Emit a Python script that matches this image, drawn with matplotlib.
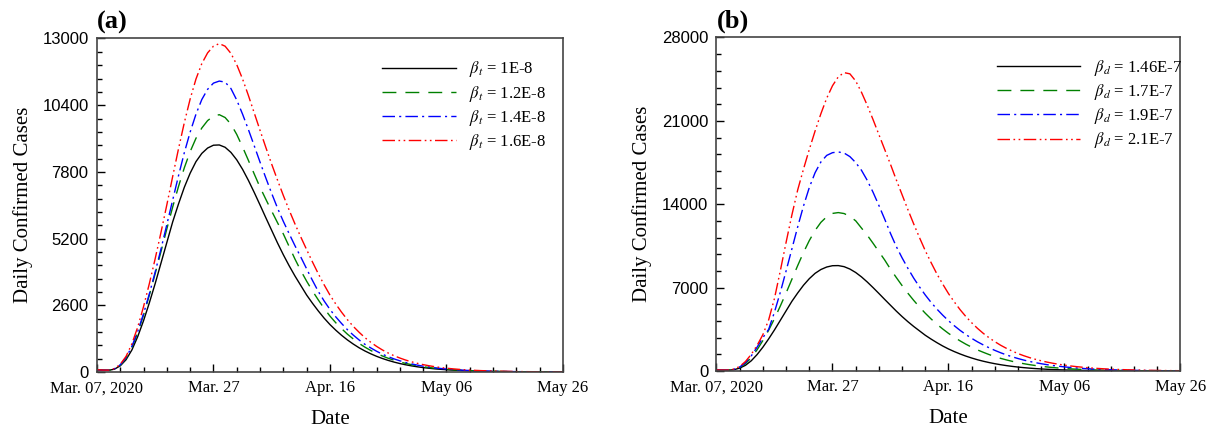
import numpy as np
import matplotlib
matplotlib.use("Agg")
import matplotlib.pyplot as plt
from matplotlib.ticker import MultipleLocator

plt.rcParams['font.family'] = ['Liberation Serif', 'DejaVu Serif']
plt.rcParams['mathtext.fontset'] = 'stix'

# days since Mar. 07, 2020
days = np.arange(0, 81)

date_ticks = [0, 20, 40, 60, 80]
date_labels = ['Mar. 07, 2020', 'Mar. 27', 'Apr. 16', 'May 06', 'May 26']

# baseline curve (same in both panels)
base_cases = [90, 70, 65, 110, 240, 480, 860, 1380, 2000, 2700,
              3450, 4250, 5050, 5850, 6550, 7200, 7750, 8200, 8520, 8730,
              8840, 8850, 8760, 8560, 8270, 7900, 7470, 7000, 6510, 6010,
              5520, 5030, 4570, 4140, 3740, 3370, 3000, 2680, 2380, 2100,
              1850, 1630, 1430, 1250, 1090, 945, 820, 710, 612, 527,
              452, 387, 330, 281, 239, 203, 172, 146, 123, 104,
              88, 74, 62, 52, 44, 37, 31, 26, 22, 18,
              15, 13, 11, 9, 8, 7, 6, 5, 4, 3, 3]

# panel (a): varying beta_t
a_labels = ['1E-8', '1.2E-8', '1.4E-8', '1.6E-8']
a_green = [90, 70, 67, 118, 260, 530, 960, 1530, 2220, 3000,
           3840, 4700, 5580, 6430, 7230, 7960, 8590, 9110, 9510, 9800,
           9970, 10030, 9920, 9660, 9260, 8770, 8250, 7720, 7200, 6730,
           6270, 5820, 5380, 4890, 4400, 3950, 3540, 3160, 2810, 2480,
           2180, 1920, 1690, 1475, 1290, 1115, 970, 840, 725, 625,
           535, 460, 392, 335, 285, 243, 206, 175, 148, 125,
           106, 89, 75, 63, 53, 45, 38, 32, 27, 22,
           18, 15, 13, 11, 9, 8, 7, 6, 5, 4, 3]
a_blue = [90, 72, 70, 125, 280, 560, 1000, 1580, 2270, 3050,
          3900, 4800, 5750, 6700, 7650, 8550, 9350, 10050, 10620, 11020,
          11260, 11340, 11300, 11050, 10600, 10050, 9450, 8820, 8180, 7560,
          6960, 6390, 5870, 5390, 4920, 4480, 4020, 3570, 3140, 2770,
          2440, 2150, 1890, 1650, 1440, 1250, 1080, 940, 810, 695,
          597, 511, 436, 371, 316, 268, 227, 193, 162, 137,
          116, 98, 82, 69, 58, 49, 41, 34, 29, 24,
          20, 17, 15, 12, 11, 9, 8, 7, 5, 4, 4]
a_red = [90, 75, 72, 130, 300, 610, 1100, 1750, 2550, 3450,
         4420, 5450, 6520, 7620, 8700, 9720, 10640, 11420, 12020, 12440,
         12700, 12800, 12700, 12420, 11980, 11420, 10780, 10100, 9420, 8750,
         8100, 7480, 6880, 6310, 5770, 5260, 4770, 4290, 3830, 3400,
         3000, 2650, 2330, 2040, 1780, 1550, 1340, 1160, 1000, 860,
         740, 635, 545, 465, 397, 338, 287, 244, 207, 175,
         148, 125, 106, 89, 75, 63, 53, 45, 38, 32,
         27, 23, 19, 16, 13, 11, 9, 8, 7, 6, 5]

# panel (b): varying beta_d
b_labels = ['1.46E-7', '1.7E-7', '1.9E-7', '2.1E-7']
b_green = [90, 72, 70, 130, 300, 620, 1120, 1780, 2560, 3430,
           4400, 5450, 6550, 7700, 8850, 9950, 10950, 11800, 12480, 12950,
           13230, 13300, 13220, 12980, 12610, 12000, 11400, 10720, 10020, 9320,
           8550, 7850, 7170, 6530, 5930, 5370, 4850, 4370, 3930, 3530,
           3160, 2830, 2530, 2250, 2000, 1770, 1570, 1380, 1210, 1060,
           930, 810, 705, 612, 530, 458, 395, 340, 292, 250,
           214, 183, 156, 133, 113, 96, 82, 69, 59, 50,
           42, 36, 30, 26, 22, 18, 15, 13, 11, 9, 8]
b_blue = [90, 75, 75, 140, 330, 700, 1270, 2000, 2800, 3500,
          4950, 6600, 8400, 10250, 12100, 13850, 15400, 16650, 17550, 18100,
          18330, 18390, 18300, 18000, 17500, 16850, 16000, 15000, 13900, 12750,
          11550, 10450, 9500, 8620, 7800, 7060, 6380, 5760, 5200, 4690,
          4220, 3800, 3410, 3060, 2740, 2450, 2190, 1950, 1730, 1530,
          1350, 1190, 1045, 915, 800, 700, 610, 530, 460, 400,
          345, 298, 257, 221, 190, 163, 140, 120, 103, 88,
          75, 64, 55, 47, 40, 34, 29, 25, 21, 18, 15]
b_red = [90, 78, 80, 160, 380, 800, 1400, 2150, 3050, 4300,
         6100, 8400, 10800, 13100, 15200, 16950, 18600, 20150, 21600, 22900,
         23950, 24700, 25050, 24950, 24350, 23400, 22300, 21100, 19850, 18600,
         17350, 16050, 14800, 13550, 12350, 11200, 10100, 9100, 8150, 7300,
         6500, 5800, 5150, 4570, 4050, 3580, 3160, 2790, 2460, 2160,
         1900, 1670, 1460, 1280, 1120, 980, 855, 745, 650, 565,
         490, 425, 370, 320, 277, 240, 207, 179, 155, 134,
         116, 100, 86, 74, 64, 55, 47, 41, 35, 30, 26]

colors = ['black', '#008000', 'blue', 'red']
styles = ['-', (0, (10, 6.5)), (0, (9, 3, 1.5, 3)), (0, (9, 2.5, 1.2, 2.5, 1.2, 2.5))]

fig = plt.figure(figsize=(12.15, 4.32), dpi=100)
ax_a = fig.add_axes([0.0798, 0.1389, 0.3835, 0.7720])
ax_b = fig.add_axes([0.5897, 0.1412, 0.3819, 0.7720])


def draw_panel(ax, series, labels, sym, ymax, ystep, tag, leg_anchor, hlen):
    for vals, lab, c, ls in zip(series, labels, colors, styles):
        ax.plot(days, vals, color=c, linestyle=ls, lw=1.0,
                label=r'$\beta_{%s}$ = %s' % (sym, lab))
    ax.set_xlim(0, 80)
    ax.set_ylim(0, ymax)
    ax.set_xticks(date_ticks)
    ax.set_xticklabels(date_labels, fontsize=12)
    ax.xaxis.set_minor_locator(MultipleLocator(4))
    ax.set_yticks(np.arange(0, ymax + 1, ystep))
    ax.yaxis.set_minor_locator(MultipleLocator(ystep / 5))
    for t in ax.get_yticklabels():
        t.set_family('Liberation Sans')
        t.set_fontsize(12)
    ax.tick_params(which='both', direction='in', top=False, right=False)
    ax.tick_params(which='major', length=6, width=1, pad=6)
    ax.tick_params(which='minor', length=3.5, width=1)
    for s in ax.spines.values():
        s.set_color('#444444')
        s.set_linewidth(1.2)
    ax.set_xlabel('Date', fontsize=15, labelpad=10)
    ax.set_ylabel('Daily Confirmed Cases', fontsize=15, labelpad=7)
    ax.text(0.0, 1.012, tag, transform=ax.transAxes, fontsize=19, fontweight='bold',
            ha='left', va='bottom')
    ax.legend(loc='upper left', bbox_to_anchor=leg_anchor, frameon=False, fontsize=12,
              handlelength=hlen, handletextpad=0.8, labelspacing=0.25)


draw_panel(ax_a, [base_cases, a_green, a_blue, a_red], a_labels, 't', 13000, 2600, '(a)',
           (0.58, 0.982), 4.4)
draw_panel(ax_b, [base_cases, b_green, b_blue, b_red], b_labels, 'd', 28000, 7000, '(b)',
           (0.572, 0.984), 5.0)

fig.savefig('out.png', dpi=100)
